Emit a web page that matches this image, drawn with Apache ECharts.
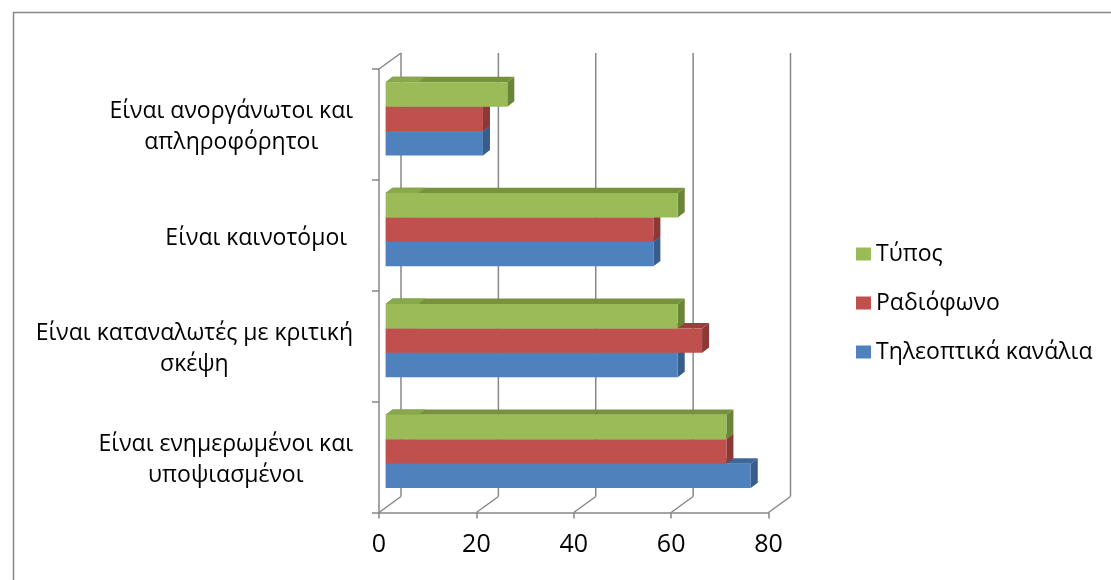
<!DOCTYPE html>
<html>
<head>
<meta charset="utf-8">
<script src="https://cdn.jsdelivr.net/npm/echarts@6/dist/echarts.min.js"></script>
<style>
  html, body { margin: 0; padding: 0; background: #ffffff; }
  #chart { width: 1111px; height: 580px; }
</style>
</head>
<body>
<div id="chart"></div>
<script>
// Categories, bottom to top
const categories = [
  'Είναι ενημερωμένοι και\nυποψιασμένοι',
  'Είναι καταναλωτές με κριτική\nσκέψη',
  'Είναι καινοτόμοι ',
  'Είναι ανοργάνωτοι και\nαπληροφόρητοι'
];
const seriesNames = ['Τηλεοπτικά κανάλια', 'Ραδιόφωνο', 'Τύπος'];
const tvValues = [75, 60, 55, 20];
const radioValues = [70, 65, 55, 20];
const pressValues = [70, 60, 60, 25];
const xTicks = [0, 20, 40, 60, 80];
const legendOrder = ['Τύπος', 'Ραδιόφωνο', 'Τηλεοπτικά κανάλια'];

const FONT = 'Open Sans';
const GRID_LINE = '#878787';

// 3D look: depth of the whole box, offset of the bar front face, bar thickness
const WALL_DX = 22, WALL_DY = -16;
const FRONT_DX = 6.6, FRONT_DY = -5.6;
const DEPTH_DX = 7, DEPTH_DY = -5.4;
const BAR_FRACTION = 0.22;

const palettes = [
  { front: '#4F81BD', top: '#3E6797', side: '#385D8A', light: '#5A8AC4' },
  { front: '#C0504D', top: '#9A3F3D', side: '#8C3836', light: '#C75D5A' },
  { front: '#9BBB59', top: '#76923C', side: '#6A8536', light: '#88A84C' }
];

function barRenderer(slot, pal) {
  return function (params, api) {
    const cat = api.value(1);
    const val = api.value(0);
    const start = api.coord([0, cat]);
    const end = api.coord([val, cat]);
    const band = api.size([0, 1])[1];
    const h = band * BAR_FRACTION;
    const cy = start[1] + (1 - slot) * h + FRONT_DY;
    const yt = cy - h / 2, yb = cy + h / 2;
    const xl = start[0] + FRONT_DX, xr = end[0] + FRONT_DX;
    const lightW = Math.min(33, xr - xl);
    return {
      type: 'group',
      children: [
        { type: 'polygon', shape: { points: [[xl, yt], [xl + DEPTH_DX, yt + DEPTH_DY], [xr + DEPTH_DX, yt + DEPTH_DY], [xr, yt]] },
          style: { fill: pal.top } },
        { type: 'polygon', shape: { points: [[xl, yt], [xl + DEPTH_DX, yt + DEPTH_DY], [xl + lightW + DEPTH_DX, yt + DEPTH_DY], [xl + lightW, yt]] },
          style: { fill: pal.light } },
        { type: 'polygon', shape: { points: [[xr, yt], [xr + DEPTH_DX, yt + DEPTH_DY], [xr + DEPTH_DX, yb + DEPTH_DY], [xr, yb]] },
          style: { fill: pal.side } },
        { type: 'rect', shape: { x: xl, y: yt, width: xr - xl, height: h },
          style: { fill: pal.front } }
      ]
    };
  };
}

function frameRenderer(params, api) {
  const cs = params.coordSys;
  const x = api.coord([api.value(0), 0])[0];
  const top = cs.y, bottom = cs.y + cs.height;
  const lineStyle = { stroke: GRID_LINE, lineWidth: 1.5, fill: null };
  const children = [
    { type: 'line', shape: { x1: x + WALL_DX, y1: top + WALL_DY, x2: x + WALL_DX, y2: bottom + WALL_DY }, style: lineStyle },
    { type: 'line', shape: { x1: x, y1: bottom, x2: x + WALL_DX, y2: bottom + WALL_DY }, style: lineStyle }
  ];
  if (api.value(0) === 0) {
    children.push({ type: 'line', shape: { x1: x, y1: top, x2: x + WALL_DX, y2: top + WALL_DY }, style: lineStyle });
  }
  return { type: 'group', children: children };
}

const valueLists = [tvValues, radioValues, pressValues];
const series = [{
  type: 'custom',
  name: 'frame',
  renderItem: frameRenderer,
  data: xTicks.map(v => [v, 0]),
  encode: { x: 0, y: 1 },
  silent: true,
  z: 1
}];
valueLists.forEach((vals, i) => {
  series.push({
    type: 'custom',
    name: seriesNames[i],
    renderItem: barRenderer(i, palettes[i]),
    itemStyle: { color: palettes[i].front },
    data: vals.map((v, c) => [v, c]),
    encode: { x: 0, y: 1 },
    z: 2 + i
  });
});

const chart = echarts.init(document.getElementById('chart'));
chart.setOption({
  backgroundColor: '#ffffff',
  animation: false,
  graphic: [{
    type: 'rect',
    left: 11, top: 10,
    shape: { width: 1300, height: 800 },
    style: { fill: null, stroke: GRID_LINE, lineWidth: 1.5 },
    silent: true
  }],
  grid: { left: 379, top: 69, width: 389.5, height: 443.5, containLabel: false },
  legend: {
    orient: 'vertical',
    left: 851, top: 235,
    data: legendOrder,
    icon: 'rect',
    itemWidth: 15, itemHeight: 13,
    itemGap: 21,
    textStyle: { fontFamily: FONT, fontSize: 23, color: '#000000', lineHeight: 28 }
  },
  xAxis: {
    type: 'value',
    min: 0, max: 80, interval: 20,
    splitLine: { show: false },
    axisLine: { show: true, lineStyle: { color: GRID_LINE, width: 1.5 } },
    axisTick: { show: true, length: 6, lineStyle: { color: GRID_LINE, width: 1.5 } },
    axisLabel: { fontFamily: FONT, fontSize: 25, color: '#000000', margin: 20 }
  },
  yAxis: {
    type: 'category',
    data: categories,
    axisLine: { show: true, lineStyle: { color: GRID_LINE, width: 1.5 } },
    axisTick: { show: true, length: 7, lineStyle: { color: GRID_LINE, width: 1.5 } },
    axisLabel: {
      margin: 26,
      padding: [6, 0, 0, 0],
      formatter: v => v.split('\n').map(s => '{c|' + s + '}').join('\n'),
      rich: { c: { align: 'center', fontFamily: FONT, fontSize: 23, lineHeight: 31, color: '#000000' } }
    }
  },
  series: series
});
</script>
</body>
</html>
